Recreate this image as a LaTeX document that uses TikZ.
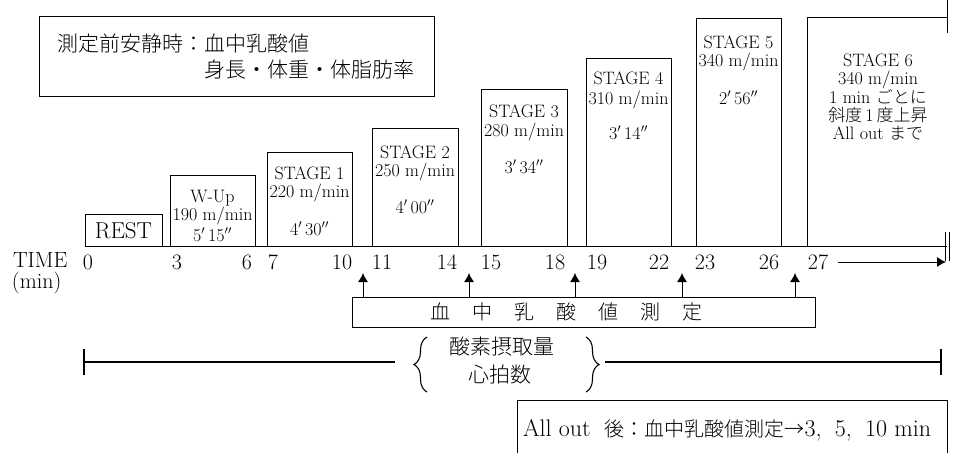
\documentclass[tikz,border=0pt]{standalone}
\usepackage{fontspec}
\newfontfamily\jpfont{Noto Sans CJK JP Light}
\usetikzlibrary{arrows.meta,decorations.pathreplacing}
\newcommand\jpt[1]{{\fontsize{17}{17}\selectfont\jpfont #1}}
\newcommand\fsz[1]{\fontsize{#1}{#1}\selectfont}
\begin{document}
\begin{tikzpicture}[x=1pt,y=-1pt,
  every node/.style={inner sep=0pt, outer sep=0pt},
  bx/.style={draw, line width=1pt},
  lbl/.style={font=\fsz{18}, anchor=base, text height=12pt, text depth=1pt},
  tlab/.style={font=\fsz{22}, anchor=base},
  jbig/.style={font=\fsz{21}\jpfont},
  ln/.style={line width=1pt},
  upar/.style={line width=1pt, -{Latex[length=9pt,width=10pt]}},
  thk/.style={line width=2.4pt},
  brc/.style={line width=1.1pt, decorate, decoration={brace, amplitude=13pt}}]
\useasboundingbox (0,0) rectangle (953,453);

% pre-test box
\node[bx, minimum width=395pt, minimum height=80pt] (pre) at (236.5,56) {};
\node[jbig, anchor=west] (pre1) at (57,43) {測定前安静時：血中乳酸値};
\node[jbig, anchor=west] (pre2) at (204,70) {身長・体重・体脂肪率};

% stage boxes
\node[bx, minimum width=77pt, minimum height=32pt] (rest) at (123.5,230) {};
\node[font=\fsz{23}, anchor=base] (restt) at (123.5,238) {REST};

\node[bx, minimum width=85pt, minimum height=71pt] (wup) at (212.5,210.5) {};
\node[lbl] (wup1) at (212.5,202) {W-Up};
\node[lbl] (wup2) at (212.5,220.5) {190 m/min};
\node[lbl] (wup3) at (212.5,241) {5$'$\,15$''$};

\node[bx, minimum width=85pt, minimum height=94pt] (s1) at (309.5,199) {};
\node[lbl] (s1a) at (309.5,179) {STAGE 1};
\node[lbl] (s1b) at (309.5,197) {220 m/min};
\node[lbl] (s1c) at (309.5,235) {4$'$\,30$''$};

\node[bx, minimum width=86pt, minimum height=118pt] (s2) at (415,187) {};
\node[lbl] (s2a) at (415,158) {STAGE 2};
\node[lbl] (s2b) at (415,176) {250 m/min};
\node[lbl] (s2c) at (415,213) {4$'$\,00$''$};

\node[bx, minimum width=86pt, minimum height=157pt] (s3) at (524,167.5) {};
\node[lbl] (s3a) at (524,117) {STAGE 3};
\node[lbl] (s3b) at (524,136) {280 m/min};
\node[lbl] (s3c) at (524,173) {3$'$\,34$''$};

\node[bx, minimum width=85pt, minimum height=188pt] (s4) at (628.5,152) {};
\node[lbl] (s4a) at (628.5,84) {STAGE 4};
\node[lbl] (s4b) at (628.5,104) {310 m/min};
\node[lbl] (s4c) at (628.5,139) {3$'$\,14$''$};

\node[bx, minimum width=85pt, minimum height=228pt] (s5) at (738.5,132) {};
\node[lbl] (s5a) at (738.5,48) {STAGE 5};
\node[lbl] (s5b) at (738.5,66) {340 m/min};
\node[lbl] (s5c) at (738.5,104) {2$'$\,56$''$};

% stage 6 (open box)
\coordinate (s6bl) at (807,246);
\coordinate (s6tr) at (947,17);
\coordinate (s6t0) at (947,0);
\coordinate (s6t1) at (947,33);
\draw[ln] (s6bl) |- (s6tr);
\draw[ln] (s6t0) -- (s6t1);
\node[lbl] (s6a) at (878,66) {STAGE 6};
\node[lbl] (s6b) at (878,84) {340 m/min};
\node[lbl] (s6c) at (878,103) {1 min \jpt{ごとに}};
\node[lbl] (s6d) at (878,121) {\jpt{斜度}\,1\,\jpt{度上昇}};
\node[lbl] (s6e) at (878,139) {All out \jpt{まで}};

% time axis
\coordinate (ax0) at (85,246);
\coordinate (ax1) at (947,246);
\draw[ln] (ax0) -- (ax1);
\coordinate (db1a) at (945,232); \coordinate (db1b) at (945,261);
\coordinate (db2a) at (949.5,232); \coordinate (db2b) at (949.5,261);
\draw[ln] (db1a) -- (db1b);
\draw[ln] (db2a) -- (db2b);
\coordinate (ar0) at (838,262); \coordinate (ar1) at (946,262);
\draw[upar] (ar0) -- (ar1);

\node[tlab, anchor=base west] (time) at (13,267) {TIME};
\node[tlab, anchor=base west] (tmin) at (12,288) {(min)};
\foreach \x/\t in {88/0,177/3,247/6,273/7,342/10,382/11,447/14,491/15,555/18,597/19,659/22,705/23,769/26,818/27}
  \node[tlab] (tk\t) at (\x,269) {\t};

% lactate measurement
\node[bx, minimum width=463pt, minimum height=30pt] (lac) at (583.5,312) {};
\node[font=\fsz{20}\jpfont] (lact) at (566.5,312) {血\hspace{22pt}中\hspace{22pt}乳\hspace{22pt}酸\hspace{22pt}値\hspace{22pt}測\hspace{22pt}定};
\foreach \i/\x in {1/363,2/469,3/575,4/682,5/795}{
  \coordinate (up\i) at (\x,273);
  \draw[upar] (lac.north -| up\i) -- (up\i);
}

% VO2 / HR range
\coordinate (l0) at (84,362); \coordinate (l1) at (395,362);
\coordinate (r0) at (605,362); \coordinate (r1) at (941,362);
\draw[thk] (l0) -- (l1);
\draw[thk] (r0) -- (r1);
\coordinate (l0a) at (84,349); \coordinate (l0b) at (84,375);
\coordinate (r1a) at (941,349); \coordinate (r1b) at (941,375);
\draw[thk] (l0a) -- (l0b);
\draw[thk] (r1a) -- (r1b);
\coordinate (bl0) at (427,392); \coordinate (bl1) at (427,337);
\coordinate (br0) at (586,337); \coordinate (br1) at (586,392);
\draw[brc] (bl0) -- (bl1);
\draw[brc] (br0) -- (br1);
\node[jbig] (vo2) at (502,347) {酸素摂取量};
\node[jbig] (hr) at (500,375) {心拍数};

% all out
\coordinate (ao0) at (517,453); \coordinate (ao1) at (517,400);
\coordinate (ao2) at (947,400); \coordinate (ao3) at (947,453);
\draw[ln] (ao0) -- (ao1) -- (ao2) -- (ao3);
\node[anchor=west, font=\fsz{24}] (aot) at (523,430) {All out\hspace{14pt}{\fsz{20}\jpfont 後：血中乳酸値測定→}3,\hspace{6pt} 5,\hspace{6pt} 10 min};
\end{tikzpicture}
\end{document}
